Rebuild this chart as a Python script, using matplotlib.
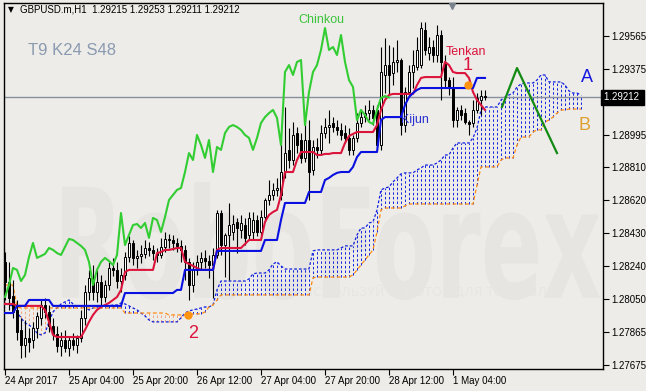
import matplotlib
matplotlib.use("Agg")
import matplotlib.pyplot as plt
import numpy as np
from matplotlib.textpath import TextPath
from matplotlib.patches import PathPatch, Rectangle
from matplotlib.font_manager import FontProperties
from matplotlib.transforms import Affine2D, IdentityTransform, blended_transform_factory

# ---------------- data (GBPUSD H1) ----------------
X_TICK_BARS = [0, 16, 32, 48, 64, 80, 96, 112]
X_TICK_LABELS = ["24 Apr 2017", "25 Apr 04:00", "25 Apr 20:00", "26 Apr 12:00",
                 "27 Apr 04:00", "27 Apr 20:00", "28 Apr 12:00", "1 May 04:00"]
Y_TICKS = [1.29565, 1.29375, 1.29185, 1.28995, 1.28810, 1.28620, 1.28430,
           1.28240, 1.28050, 1.27865, 1.27675]
LAST_PRICE = 1.29212

OPEN = [1.28266, 1.28151, 1.28070, 1.27990, 1.27875, 1.27788, 1.27829, 1.27817, 1.27886, 1.27944,
        1.28018, 1.27978, 1.27898, 1.27852, 1.27783, 1.27817, 1.27771, 1.27817, 1.27788, 1.27829,
        1.27944, 1.28093, 1.28174, 1.28093, 1.28151, 1.28064, 1.28133, 1.28231, 1.28220, 1.28156,
        1.28191, 1.28294, 1.28375, 1.28289, 1.28300, 1.28312, 1.28346, 1.28335, 1.28317, 1.28306,
        1.28352, 1.28398, 1.28392, 1.28375, 1.28358, 1.28335, 1.28266, 1.28133, 1.28220, 1.28266,
        1.28289, 1.28271, 1.28248, 1.28306, 1.28547, 1.28363, 1.28421, 1.28438, 1.28496, 1.28450,
        1.28478, 1.28421, 1.28438, 1.28507, 1.28438, 1.28524, 1.28622, 1.28651, 1.28680, 1.28651,
        1.28783, 1.28910, 1.28852, 1.29007, 1.28967, 1.28864, 1.28967, 1.28795, 1.28927, 1.28910,
        1.29007, 1.29042, 1.29065, 1.29042, 1.29025, 1.29007, 1.28979, 1.28910, 1.28979, 1.29065,
        1.29099, 1.29122, 1.29140, 1.29140, 1.28938, 1.29341, 1.29398, 1.29352, 1.29416, 1.29427,
        1.29053, 1.29243, 1.29358, 1.29387, 1.29398, 1.29600, 1.29467, 1.29502, 1.29456, 1.29571,
        1.29416, 1.29312, 1.29272, 1.29082, 1.29140, 1.29122, 1.29071, 1.29065, 1.29140, 1.29197,
        1.29220]
HIGH = [1.28323, 1.28266, 1.28162, 1.28047, 1.27944, 1.27932, 1.27886, 1.27921, 1.27978, 1.28047,
        1.28059, 1.28018, 1.27944, 1.27898, 1.27863, 1.27875, 1.27840, 1.27857, 1.27846, 1.27990,
        1.28133, 1.28220, 1.28248, 1.28220, 1.28191, 1.28162, 1.28266, 1.28289, 1.28266, 1.28231,
        1.28323, 1.28415, 1.28392, 1.28335, 1.28363, 1.28392, 1.28381, 1.28363, 1.28346, 1.28404,
        1.28438, 1.28427, 1.28421, 1.28404, 1.28392, 1.28363, 1.28289, 1.28266, 1.28306, 1.28323,
        1.28335, 1.28306, 1.28346, 1.28565, 1.28565, 1.28433, 1.28605, 1.28536, 1.28519, 1.28536,
        1.28519, 1.28553, 1.28553, 1.28536, 1.28565, 1.28634, 1.28737, 1.28720, 1.28749, 1.28967,
        1.29157, 1.29036, 1.29071, 1.29042, 1.29007, 1.29082, 1.29082, 1.28967, 1.28979, 1.29053,
        1.29094, 1.29140, 1.29099, 1.29082, 1.29065, 1.29053, 1.29036, 1.28996, 1.29122, 1.29140,
        1.29168, 1.29197, 1.29168, 1.29168, 1.29502, 1.29553, 1.29513, 1.29502, 1.29542, 1.29439,
        1.29272, 1.29398, 1.29485, 1.29559, 1.29646, 1.29646, 1.29559, 1.29542, 1.29628, 1.29600,
        1.29456, 1.29329, 1.29329, 1.29157, 1.29168, 1.29151, 1.29082, 1.29197, 1.29237, 1.29255,
        1.29255]
LOW = [1.28047, 1.27990, 1.27944, 1.27817, 1.27713, 1.27719, 1.27748, 1.27771, 1.27829, 1.27903,
       1.27944, 1.27863, 1.27817, 1.27748, 1.27725, 1.27748, 1.27725, 1.27760, 1.27742, 1.27806,
       1.27903, 1.28047, 1.28047, 1.28036, 1.28018, 1.28036, 1.28105, 1.28185, 1.28116, 1.28093,
       1.28162, 1.28266, 1.28248, 1.28231, 1.28260, 1.28289, 1.28300, 1.28277, 1.28266, 1.28289,
       1.28323, 1.28346, 1.28335, 1.28323, 1.28266, 1.28162, 1.28047, 1.28093, 1.28191, 1.28220,
       1.28231, 1.28174, 1.28059, 1.28289, 1.28306, 1.28179, 1.28162, 1.28392, 1.28317, 1.28404,
       1.28363, 1.28392, 1.28392, 1.28415, 1.28415, 1.28496, 1.28593, 1.28622, 1.28645, 1.28622,
       1.28749, 1.28806, 1.28823, 1.28892, 1.28835, 1.28841, 1.28622, 1.28766, 1.28864, 1.28881,
       1.28979, 1.28950, 1.29013, 1.28996, 1.28967, 1.28950, 1.28881, 1.28881, 1.28956, 1.29042,
       1.29071, 1.29082, 1.29053, 1.28910, 1.28910, 1.29237, 1.29226, 1.29283, 1.29358, 1.28996,
       1.29013, 1.29220, 1.29266, 1.29370, 1.29381, 1.29456, 1.29427, 1.29416, 1.29416, 1.29197,
       1.29266, 1.29226, 1.29042, 1.29042, 1.29082, 1.29059, 1.28996, 1.29042, 1.29122, 1.29111,
       1.29197]
CLOSE = [1.28151, 1.28059, 1.27978, 1.27863, 1.27788, 1.27829, 1.27806, 1.27886, 1.27955, 1.28018,
         1.27978, 1.27898, 1.27852, 1.27783, 1.27817, 1.27771, 1.27817, 1.27788, 1.27829, 1.27944,
         1.28093, 1.28174, 1.28093, 1.28151, 1.28064, 1.28133, 1.28231, 1.28220, 1.28156, 1.28191,
         1.28294, 1.28375, 1.28289, 1.28300, 1.28312, 1.28346, 1.28335, 1.28317, 1.28306, 1.28352,
         1.28398, 1.28392, 1.28375, 1.28358, 1.28335, 1.28266, 1.28133, 1.28220, 1.28266, 1.28289,
         1.28271, 1.28248, 1.28306, 1.28547, 1.28363, 1.28421, 1.28478, 1.28484, 1.28461, 1.28490,
         1.28404, 1.28519, 1.28507, 1.28438, 1.28524, 1.28622, 1.28651, 1.28680, 1.28691, 1.28783,
         1.28892, 1.28852, 1.28996, 1.28938, 1.28864, 1.28967, 1.28783, 1.28927, 1.28910, 1.29007,
         1.29042, 1.29053, 1.29042, 1.29025, 1.28996, 1.28979, 1.28910, 1.28979, 1.29065, 1.29099,
         1.29122, 1.29140, 1.29094, 1.28938, 1.29358, 1.29398, 1.29341, 1.29416, 1.29427, 1.29053,
         1.29243, 1.29358, 1.29398, 1.29485, 1.29611, 1.29485, 1.29502, 1.29456, 1.29571, 1.29416,
         1.29312, 1.29272, 1.29082, 1.29140, 1.29111, 1.29071, 1.29059, 1.29140, 1.29209, 1.29220,
         1.29212]

TENKAN = ([1.28024] * 3 + [1.28013] * 7 + [1.27990, 1.27921, 1.27846] + [1.27834] * 7 +
          [1.27875, 1.27921, 1.27961, 1.27990, 1.28007, 1.28018, 1.28030, 1.28047, 1.28064, 1.28105, 1.28208] +
          [1.28220] * 7 + [1.28317, 1.28323, 1.28335, 1.28335, 1.28340, 1.28346, 1.28346] +
          [1.28266, 1.28254, 1.28243, 1.28231] + [1.28220] * 4 + [1.28335] + [1.28346] * 6 +
          [1.28369] + [1.28392] * 4 +
          [1.28496, 1.28536, 1.28553, 1.28565, 1.28651, 1.28783, 1.28783, 1.28783, 1.28852,
           1.28898, 1.28898, 1.28898, 1.28898, 1.28881] +
          [1.28881, 1.28887, 1.28887, 1.28892, 1.28892, 1.28892] +
          [1.28950, 1.28990, 1.29002, 1.29013] + [1.29013] * 4 +
          [1.29053, 1.29140, 1.29197, 1.29226] + [1.29232] * 6 + [1.29283, 1.29324] +
          [1.29329] * 5 + [1.29416, 1.29398, 1.29358] + [1.29352] * 3 +
          [1.29324, 1.29243, 1.29197, 1.29168, 1.29140])

KIJUN = ([1.27972] * 3 + [1.28013] * 3 + [1.28047] * 6 + [1.28013] * 18 + [1.28087] * 13 +
         [1.28105] * 2 + [1.28220] * 8 + [1.28329] * 12 + [1.28392] * 4 + [1.28507] +
         [1.28605] * 6 + [1.28668] * 4 +
         [1.28737, 1.28749, 1.28766, 1.28778, 1.28783, 1.28783, 1.28783, 1.28812, 1.28869] +
         [1.28898] * 5 + [1.29082] + [1.29099] * 5 + [1.29168, 1.29214, 1.29237, 1.29255] +
         [1.29266] * 14 + [1.29324] * 3)

SENKOU_A = ([1.28024, 1.28018, 1.28013, 1.27978, 1.27944, 1.27915, 1.27903, 1.27886, 1.27857, 1.27846,
             1.27857, 1.27921, 1.27978, 1.28001, 1.28024, 1.28036, 1.28047, 1.28024, 1.28007, 1.28013,
             1.28001, 1.27990, 1.28001, 1.28007, 1.28013, 1.28013, 1.28013, 1.28018, 1.28018, 1.28030,
             1.28024, 1.28013, 1.28001, 1.27990, 1.27972, 1.27955, 1.27932, 1.27921] +
            [1.27921] * 6 +
            [1.27944, 1.27972, 1.27984, 1.27990, 1.27995, 1.28001, 1.28007, 1.28007, 1.28018, 1.28105, 1.28156] +
            [1.28156] * 6 + [1.28168, 1.28197] + [1.28202] * 3 +
            [1.28220, 1.28254, 1.28266, 1.28243] + [1.28225] * 7 + [1.28329] + [1.28335] * 6 +
            [1.28346] + [1.28358] * 3 +
            [1.28421, 1.28461, 1.28461, 1.28490, 1.28496, 1.28565, 1.28680, 1.28691, 1.28697,
             1.28726, 1.28749, 1.28772] +
            [1.28778] * 3 + [1.28795, 1.28806] + [1.28823] * 3 +
            [1.28835, 1.28852, 1.28881, 1.28881, 1.28921] + [1.28950] * 4 +
            [1.28979, 1.29036, 1.29140, 1.29157] + [1.29157] * 3 +
            [1.29197, 1.29214, 1.29226, 1.29237, 1.29272, 1.29289] + [1.29295] * 3 +
            [1.29312, 1.29341, 1.29341] + [1.29301] * 4 +
            [1.29283, 1.29249, 1.29237, 1.29237, 1.29226])

SENKOU_B = ([1.28133] * 3 + [1.28007] + [1.28001] * 26 + [1.27972] * 11 + [1.27961] * 5 +
            [1.27967] * 4 + [1.27978, 1.28007, 1.28018, 1.28047, 1.28076] + [1.28076] * 22 +
            [1.28174] + [1.28179] * 9 +
            [1.28191, 1.28220, 1.28248, 1.28277, 1.28306, 1.28335, 1.28438, 1.28565] +
            [1.28576] * 5 + [1.28588] + [1.28599] * 17 + [1.28708, 1.28812] + [1.28812] * 4 +
            [1.28852] + [1.28864] * 3 + [1.28938] + [1.28984] * 3 + [1.29013] + [1.29025] * 2 +
            [1.29071, 1.29082, 1.29099, 1.29122] + [1.29140] * 2 + [1.29145] * 4)

CHINKOU_SHIFT = 24
FORECAST_BARS = [124.25, 128.0, 138.0]
FORECAST_PRICES = [1.29157, 1.29381, 1.28892]
SIGNAL_BARS = [115.75, 45.75]
SIGNAL_PRICES = [1.29283, 1.27961]

# ---------------- figure ----------------
BG = "#edece8"
W, H = 646, 391
fig = plt.figure(figsize=(W / 100, H / 100), dpi=100, facecolor=BG)
ax = fig.add_axes([4 / W, 22 / H, 599 / W, 366 / H])
ax.set_facecolor(BG)
ax.set_xlim(-0.25, 149.5)
ax.set_ylim(1.27650, 1.29755)

# watermark
tp = TextPath((0, 0), "RoboForex", size=100,
              prop=FontProperties(family="DejaVu Sans", weight="bold"))
ext = tp.get_extents()
x0, y0, x1, y1 = 62, H - 300, 600, H - 182
tr = (Affine2D().translate(-ext.x0, -ext.y0)
      .scale((x1 - x0) / ext.width, (y1 - y0) / ext.height).translate(x0, y0))
wm = PathPatch(tr.transform_path(tp), facecolor="#e6e5e1", edgecolor="none",
               transform=IdentityTransform(), zorder=0.1)
ax.add_artist(wm)
ax.text(0.50, 0.20, "ИСПОЛЬЗУЙ РОБОТОВ ДЛЯ ТОРГОВЛИ", transform=ax.transAxes,
        fontsize=9, color="#e7e6e2", family="DejaVu Sans", zorder=0.2, clip_on=True)

n_all = len(SENKOU_A)
bars_all = np.arange(n_all)
sa = np.array(SENKOU_A)
sb = np.array(SENKOU_B)

# cloud hatch
cols = ["#1020e0" if a >= b else "#f2a27a" for a, b in zip(sa, sb)]
ax.vlines(bars_all, np.minimum(sa, sb), np.maximum(sa, sb), colors=cols,
          linewidth=0.7, linestyles=[(0, (2.5, 2.2))], zorder=1)
ax.plot(bars_all, sa, color="#1020e0", lw=0.9, ls=(0, (2.2, 1.6)), zorder=1.2)
ax.plot(bars_all, sb, color="#ff8c10", lw=0.9, ls=(0, (3, 2)), zorder=1.2)

# price line
ax.axhline(LAST_PRICE, color="#8890a0", lw=1.0, zorder=1.5)

# candles
n = len(CLOSE)
idx = np.arange(n)
ax.vlines(idx, LOW, HIGH, colors="black", linewidth=0.8, zorder=2)
for i in range(n):
    o, c = OPEN[i], CLOSE[i]
    lo, hi = min(o, c), max(o, c)
    fc = "white" if c >= o else "black"
    if hi - lo < 0.00002:
        ax.hlines(c, i - 0.35, i + 0.35, colors="black", linewidth=0.9, zorder=2.1)
    else:
        ax.add_patch(Rectangle((i - 0.3, lo), 0.6, hi - lo, facecolor=fc,
                               edgecolor="black", linewidth=0.7, zorder=2.1))

# ichimoku lines
ax.plot(idx, TENKAN, color="#dc143c", lw=1.5, zorder=3)
ax.plot(idx, KIJUN, color="#0a10e0", lw=1.5, zorder=3)
chk = CLOSE[CHINKOU_SHIFT:]
ax.plot(np.arange(len(chk)), chk, color="#32cd32", lw=1.5, zorder=3.1)

# forecast
ax.plot(FORECAST_BARS, FORECAST_PRICES, color="#138a13", lw=1.6, zorder=3.2)
ax.plot(SIGNAL_BARS, SIGNAL_PRICES, "o", color="#ff9410", ms=6, mec="none", zorder=3.3)

# labels
lf = "Liberation Sans"
ax.text(79.0, 1.29657, "Chinkou", color="#3cc43c", fontsize=9, family=lf, ha="center", va="center")
ax.text(115.25, 1.29473, "Tenkan", color="#dc143c", fontsize=9, family=lf, ha="center", va="center")
ax.text(115.75, 1.29393, "1", color="#dc143c", fontsize=13, family=lf, ha="center", va="center")
ax.text(102.6, 1.29082, "Kijun", color="#2830d0", fontsize=9, family=lf, ha="center", va="center", zorder=4)
ax.text(47.0, 1.27857, "2", color="#dc143c", fontsize=13, family=lf, ha="center", va="center")
ax.text(145.5, 1.29324, "A", color="#1515e0", fontsize=13, family=lf, ha="center", va="center")
ax.text(145.0, 1.29053, "B", color="#e0a030", fontsize=13, family=lf, ha="center", va="center")
ax.text(5.75, 1.29479, "T9 K24 S48", color="#8a9ab0", fontsize=12, family=lf, ha="left", va="center")

# axes styling
for s in ax.spines.values():
    s.set_color("black")
    s.set_linewidth(1.0)
ax.yaxis.tick_right()
ax.set_yticks(Y_TICKS)
ax.set_yticklabels(["" if abs(v - 1.29185) < 1e-6 else f"{v:.5f}" for v in Y_TICKS])
ax.set_xticks(X_TICK_BARS)
ax.set_xticklabels(X_TICK_LABELS)
for lbl in ax.get_xticklabels():
    lbl.set_horizontalalignment("left")
ax.tick_params(axis="both", direction="out", length=4, width=0.8, labelsize=7, pad=2,
               colors="black")
ax.tick_params(axis="x", pad=1)
for lbl in ax.get_xticklabels() + ax.get_yticklabels():
    lbl.set_family(lf)

trans = blended_transform_factory(ax.transAxes, ax.transData)
ax.text(1.0015, LAST_PRICE, "1.29212 ", transform=trans, color="white", fontsize=7, family=lf,
        ha="left", va="center", zorder=10, clip_on=False,
        bbox=dict(boxstyle="square,pad=0.25", fc="black", ec="black"))

# top marker
ax.plot([111.75], [1.29735], marker="v", color="#7a828c", ms=5, clip_on=False, zorder=5)

# header
fig.text(8 / W, 1 - 10 / H, "▼", fontsize=5.5, va="center", ha="left", family="DejaVu Sans")
fig.text(20 / W, 1 - 10 / H, "GBPUSD.m,H1  1.29215 1.29253 1.29211 1.29212", fontsize=7,
         va="center", ha="left", family=lf)

fig.savefig("out.png", dpi=100, facecolor=BG)
